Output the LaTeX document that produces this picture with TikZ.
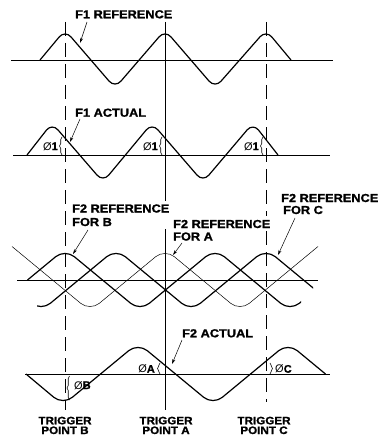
\documentclass[tikz,border=0pt]{standalone}
\usepackage{fontspec}
\setmainfont{Liberation Sans}
\newfontfamily\lblfont{Liberation Sans Bold}[FakeStretch=1.1, FakeBold=1.2]
\newfontfamily\trgfont{Liberation Sans Bold}[FakeStretch=1.08, FakeBold=1.2]
\newfontfamily\phsfont{Liberation Sans Bold}[FakeBold=1.2]
\newfontfamily\phsthin{Liberation Sans}
\usetikzlibrary{arrows.meta,decorations.pathreplacing}
\begin{document}
\begin{tikzpicture}[x=1pt,y=-1pt,
  lbl/.style={font=\lblfont\fontsize{11.6}{13}\selectfont, inner sep=0pt, anchor=base west},
  trg/.style={font=\trgfont\fontsize{10.8}{12}\selectfont, inner sep=0pt, anchor=base},
  phs/.style={font=\phsfont\fontsize{11}{12}\selectfont, inner sep=0pt},
  wave/.style={line width=1.2pt, rounded corners=9pt, line join=round},
  wavetwo/.style={line width=1.2pt, rounded corners=12pt, line join=round},
  thinwave/.style={line width=0.5pt, rounded corners=12pt},
  axis/.style={line width=0.5pt},
  trig/.style={line width=0.7pt},
  dashtrig/.style={line width=0.7pt, dash pattern=on 14pt off 7pt},
  ptr/.style={line width=0.5pt, -{Stealth[length=5pt,width=3pt]}},
  brc/.style={line width=0.6pt, decorate, decoration={brace, amplitude=2.5pt}},
]
\useasboundingbox (0,0) rectangle (382,441);

% ---- trigger lines
\coordinate (tB) at (65,22);  \coordinate (bB) at (65,410);
\coordinate (tA) at (165,22); \coordinate (gA1) at (165,201);
\coordinate (gA2) at (165,229); \coordinate (bA) at (165,410);
\coordinate (tC) at (266,22); \coordinate (gC1) at (266,216);
\coordinate (gC2) at (266,231); \coordinate (bC) at (266,402);
\draw[dashtrig] (tB) -- (bB);
\draw[trig] (tA) -- (gA1);
\draw[trig] (gA2) -- (bA);
\draw[dashtrig] (tC) -- (gC1);
\draw[dashtrig] (gC2) -- (bC);

% ---- baselines
\coordinate (a1l) at (11,60);  \coordinate (a1r) at (333,60);
\coordinate (a2l) at (13,155); \coordinate (a2r) at (330,155);
\coordinate (a3l) at (17,280); \coordinate (a3r) at (318,280);
\coordinate (a4l) at (25,374); \coordinate (a4r) at (330,374);
\draw[axis] (a1l) -- (a1r);
\draw[axis] (a2l) -- (a2r);
\draw[axis] (a3l) -- (a3r);
\draw[axis] (a4l) -- (a4r);

% ---- F1 reference
\draw[wave] (40,60) -- (65,30) -- (115,88) -- (165,30) -- (215,88) -- (266,30) -- (291,60);
% ---- F1 actual
\draw[wave] (27,155) -- (52,123) -- (103,182) -- (152,123) -- (203,182) -- (253,123) -- (278,155);

% ---- F2 references
\draw[thinwave] (12,246.5) -- (90,311) -- (165,249) -- (240,311) -- (318,246.5);
\begin{scope}
  \clip (26,230) rectangle (301,330);
  \draw[wavetwo] (27.5,280) -- (65,249) -- (140,311) -- (215,249) -- (290,311) -- (340,269.6);
\end{scope}
\begin{scope}
  \clip (37,230) rectangle (313,330);
  \draw[wavetwo] (-34,249) -- (41,311) -- (116,249) -- (191,311) -- (266,249) -- (341,311);
\end{scope}

% ---- F2 actual
\draw[wavetwo] (26,374) -- (63,405) -- (138,343) -- (213,405) -- (288,343) -- (325.5,374);

% ---- labels
\node[lbl] (f1ref) at (75,18.3) {F1 REFERENCE};
\node[lbl] (f1act) at (75,116.7) {F1 ACTUAL};
\node[lbl] (f2rb1) at (72,212.5) {F2 REFERENCE};
\node[lbl] (f2rb2) at (72,226) {FOR B};
\node[lbl] (f2ra1) at (173,228) {F2 REFERENCE};
\node[lbl] (f2ra2) at (173,240.5) {FOR A};
\node[lbl] (f2rc1) at (281,202) {F2 REFERENCE};
\node[lbl] (f2rc2) at (283,214) {FOR C};
\node[lbl] (f2act) at (182,337.3) {F2 ACTUAL};

% ---- pointer arrows
\coordinate (p1s) at (87,22);   \coordinate (p1e) at (80,43);
\coordinate (p2s) at (80,119);  \coordinate (p2e) at (70,142);
\coordinate (p3s) at (88,230);  \coordinate (p3e) at (73,254);
\coordinate (p4s) at (182,243); \coordinate (p4e) at (173,255);
\coordinate (p5s) at (295,218); \coordinate (p5e) at (278,255);
\coordinate (p6s) at (182,340); \coordinate (p6e) at (172,364);
\draw[ptr] (p1s) -- (p1e);
\draw[ptr] (p2s) -- (p2e);
\draw[ptr] (p3s) -- (p3e);
\draw[ptr] (p4s) -- (p4e);
\draw[ptr] (p5s) -- (p5e);
\draw[ptr] (p6s) -- (p6e);

% ---- phase braces and labels
\draw[brc] (62,155) -- (62,137);
\draw[brc] (162,155) -- (162,137);
\draw[brc] (263,155) -- (263,137);
\node[phs, anchor=base east] (ph1b) at (58,150) {{\phsthin Ø}1};
\node[phs, anchor=base east] (ph1a) at (158,150) {{\phsthin Ø}1};
\node[phs, anchor=base east] (ph1c) at (259,150) {{\phsthin Ø}1};

\draw[brc] (160,374) -- (160,363);
\node[phs, anchor=base east] (phA) at (155,372.7) {{\phsthin Ø}A};
\draw[brc] (69.5,400) -- (69.5,376);
\node[phs, anchor=base west] (phB) at (74,389) {{\phsthin Ø}B};
\draw[brc] (270,363) -- (270,374);
\node[phs, anchor=base west] (phC) at (275,372.7) {{\phsthin Ø}C};

% ---- trigger labels
\node[trg] (tgB1) at (65,424.3) {TRIGGER};
\node[trg] (tgB2) at (65,434) {POINT B};
\node[trg] (tgA1) at (166,424.3) {TRIGGER};
\node[trg] (tgA2) at (166,434) {POINT A};
\node[trg] (tgC1) at (264,424.3) {TRIGGER};
\node[trg] (tgC2) at (264,434) {POINT C};
\end{tikzpicture}
\end{document}
